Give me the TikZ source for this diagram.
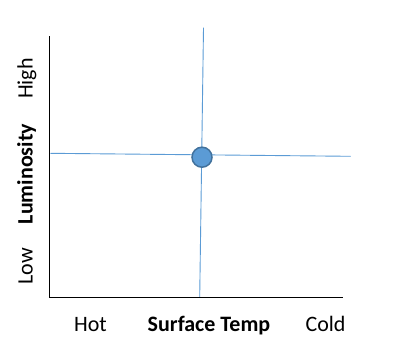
\documentclass[tikz,border=0pt]{standalone}
\usepackage{fontspec}
\setmainfont{Carlito}
\definecolor{linkblue}{HTML}{5B9BD5}
\definecolor{dotedge}{HTML}{41719C}
\begin{document}
\begin{tikzpicture}[x=1pt,y=-1pt,
  axisline/.style={line width=1.3pt,black},
  guide/.style={line width=0.9pt,linkblue},
  lbl/.style={font=\fontsize{22}{26}\selectfont,inner sep=0pt,anchor=base},
  boldlbl/.style={lbl,font=\fontsize{22}{26}\selectfont\bfseries},
  dot/.style={circle,fill=linkblue,draw=dotedge,line width=1.5pt,minimum size=20pt,inner sep=0pt}]
\useasboundingbox (0,0) rectangle (398,359);
\coordinate (ytop) at (49.7,36);
\coordinate (orig) at (49.7,297.3);
\coordinate (xend) at (343.3,297.3);
\coordinate (hl) at (50.5,153.3);
\coordinate (hr) at (350.7,156.3);
\coordinate (vt) at (203.5,27.7);
\coordinate (vb) at (199.7,297);
\draw[guide] (hl) -- (hr);
\draw[guide] (vt) -- (vb);
\draw[axisline] (ytop) -- (orig) -- (xend);
\node[dot] (star) at (202,157.2) {};
\node[lbl] (hot) at (90.5,331) {Hot};
\node[boldlbl] (stemp) at (209,331) {Surface Temp};
\node[lbl] (cold) at (325.5,331) {Cold};
\node[lbl,rotate=90] (high) at (32.5,78.5) {High};
\node[boldlbl,rotate=90] (lum) at (32.5,174) {Luminosity};
\node[lbl,rotate=90] (low) at (32.5,266.5) {Low};
\end{tikzpicture}
\end{document}
